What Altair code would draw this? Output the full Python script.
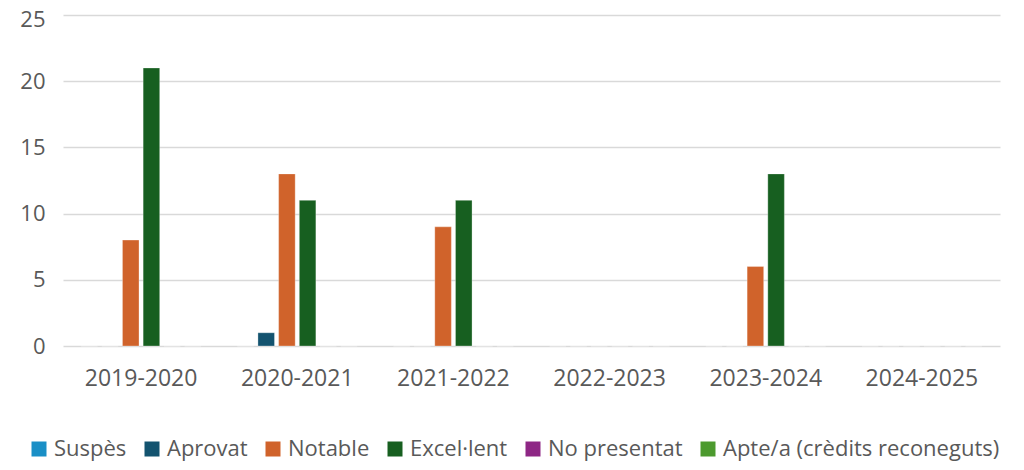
import altair as alt
import pandas as pd

years = ["2019-2020", "2020-2021", "2021-2022", "2022-2023", "2023-2024", "2024-2025"]
series = ["Suspès", "Aprovat", "Notable", "Excel·lent", "No presentat", "Apte/a (crèdits reconeguts)"]
colors = ["#1A8FC6", "#13536F", "#D0632B", "#175F20", "#8E2785", "#4C9A2E"]

suspes = [0, 0, 0, 0, 0, 0]
aprovat = [0, 1, 0, 0, 0, 0]
notable = [8, 13, 9, 0, 6, 0]
excellent = [21, 11, 11, 0, 13, 0]
no_presentat = [0, 0, 0, 0, 0, 0]
apte = [0, 0, 0, 0, 0, 0]

values = [suspes, aprovat, notable, excellent, no_presentat, apte]
rows = []
for s, vals in zip(series, values):
    for y, v in zip(years, vals):
        rows.append({"curs": y, "qualificacio": s, "n": v})
df = pd.DataFrame(rows)

FONT = "Open Sans"

chart = alt.Chart(df).mark_bar(stroke="white", strokeWidth=0.6, strokeOpacity=0.5).encode(
    x=alt.X("curs:N", sort=years, scale=alt.Scale(domain=years, paddingInner=0.205, paddingOuter=0.1025),
            axis=alt.Axis(title=None, labelAngle=0, domain=False, ticks=False, labelFontSize=23,
                          labelColor="#595959", labelFont=FONT, labelPadding=21)),
    xOffset=alt.XOffset("qualificacio:N", sort=series,
                        scale=alt.Scale(domain=series, paddingInner=0.2, paddingOuter=0.1)),
    y=alt.Y("n:Q", scale=alt.Scale(domain=[0, 25]),
            axis=alt.Axis(title=None, values=[0, 5, 10, 15, 20, 25], domain=False, ticks=False,
                          labelFontSize=22, labelColor="#595959", labelFont=FONT, labelPadding=18,
                          labelOffset=alt.expr("datum.value == 25 ? 4 : 0"),
                          gridColor="#D9D9D9", gridWidth=1.5)),
    color=alt.Color("qualificacio:N", sort=series,
                    scale=alt.Scale(domain=series, range=colors),
                    legend=alt.Legend(title=None, orient="none", direction="horizontal",
                                      legendX=-35, legendY=423, symbolType="square",
                                      symbolSize=225, symbolStrokeWidth=0, labelFontSize=22,
                                      labelFont=FONT, labelColor="#595959", columnPadding=14,
                                      labelOffset=4, labelLimit=400)),
).properties(
    width=937, height=331,
    autosize=alt.AutoSizeParams(type="none"),
    padding={"left": 55, "top": 7, "right": 16, "bottom": 116},
).configure_view(stroke=None)

chart.save("out.html", embed_options={"renderer": "svg", "actions": False})
